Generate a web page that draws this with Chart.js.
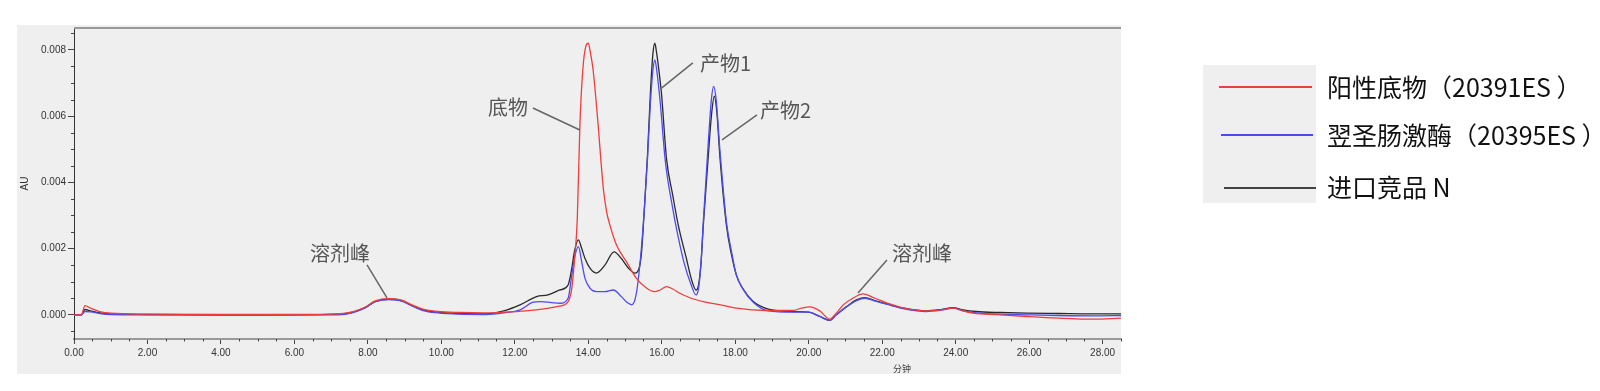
<!DOCTYPE html>
<html lang="zh">
<head>
<meta charset="UTF-8">
<title>色谱图</title>
<script src="https://cdn.jsdelivr.net/npm/chart.js"></script>
<style>
  body { margin: 0; background: #fff; }
  #wrap { position: relative; width: 1600px; height: 391px; overflow: hidden; }
  canvas { position: absolute; left: 0; top: 0; }
  .ann { position: absolute; font-family: "Noto Sans CJK SC", sans-serif; font-size: 20px; line-height: 20px; color: #555; white-space: nowrap; }
  .xt { position: absolute; font-family: "Noto Sans CJK SC", sans-serif; font-size: 9px; line-height: 9px; color: #444; }
  #legendBox { position: absolute; left: 1203px; top: 65px; width: 113px; height: 138px; background: #efefef; }
  .lg-line { position: absolute; height: 2px; }
  .lg-text { position: absolute; left: 1327px; font-family: "Noto Sans CJK SC", sans-serif; font-size: 25px; line-height: 25px; color: #111; white-space: nowrap; }
</style>
</head>
<body>
<div id="wrap">
  <canvas id="chart" width="1600" height="391"></canvas>

  <div class="ann" style="left:488px; top:97px;">底物</div>
  <div class="ann" style="left:700px; top:53px;">产物1</div>
  <div class="ann" style="left:760px; top:100px;">产物2</div>
  <div class="ann" style="left:310px; top:243px;">溶剂峰</div>
  <div class="ann" style="left:892px; top:243px;">溶剂峰</div>
  <div class="xt" style="left:893px; top:364px;">分钟</div>

  <div id="legendBox"></div>
  <div class="lg-line" style="left:1219px; top:86px; width:93px; background:#f03c3c;"></div>
  <div class="lg-line" style="left:1221px; top:134px; width:92px; background:#4b4bf5;"></div>
  <div class="lg-line" style="left:1224px; top:187px; width:92px; background:#444;"></div>
  <div class="lg-text" style="top:74px;">阳性底物（20391ES ）</div>
  <div class="lg-text" style="top:122px;">翌圣肠激酶（20395ES ）</div>
  <div class="lg-text" style="top:174px;">进口竞品 N</div>
</div>

<script>
// retention time (min) and absorbance (AU)
const redT = [0, 0.2, 0.3, 0.45, 0.7, 1.0, 2, 4, 6, 7.2, 7.6, 7.9, 8.2, 8.56, 8.9, 9.2, 9.5, 9.9, 10.5, 11.2, 11.7, 12.3, 12.8, 13.2, 13.45, 13.55, 13.62, 13.7, 13.77, 13.85, 13.93, 14.0, 14.06, 14.13, 14.2, 14.27, 14.34, 14.41, 14.5, 14.59, 14.77, 15.04, 15.31, 15.59, 15.8, 15.95, 16.13, 16.3, 16.49, 16.8, 17.13, 17.6, 18.03, 18.85, 19.56, 19.8, 20.03, 20.3, 20.57, 20.75, 20.94, 21.2, 21.48, 21.8, 22.12, 22.6, 23.2, 23.6, 23.93, 24.2, 24.47, 25.2, 25.93, 26.8, 27.74, 28.5];
const redV = [0, 0, 0.00028, 0.0002, 0.0001, 0.00005, 0.00002, 0.00001, 0.00001, 0.00003, 0.0001, 0.00022, 0.00042, 0.00049, 0.00045, 0.0003, 0.00017, 0.0001, 0.00007, 0.00006, 0.00008, 0.00012, 0.00018, 0.00026, 0.0004, 0.0008, 0.0016, 0.0029, 0.0057, 0.0074, 0.0081, 0.0082, 0.0079, 0.0074, 0.0066, 0.0057, 0.0047, 0.0038, 0.0031, 0.0027, 0.0021, 0.0016, 0.0011, 0.0008, 0.0007, 0.00075, 0.00085, 0.00078, 0.00065, 0.0005, 0.0004, 0.0003, 0.0002, 0.00013, 0.00013, 0.0002, 0.00024, 0.00012, -0.00013, 0.00005, 0.0003, 0.0005, 0.00063, 0.0005, 0.00036, 0.0002, 0.00012, 0.00015, 0.0002, 0.00012, 0.00005, 0, -0.00005, -0.0001, -0.00013, -0.0001];

const blueT = [0, 0.2, 0.3, 0.45, 0.7, 1.0, 2, 4, 6, 7.2, 7.6, 7.9, 8.2, 8.56, 8.9, 9.2, 9.5, 9.9, 10.5, 11.2, 11.7, 12.14, 12.5, 12.7, 13.0, 13.23, 13.45, 13.55, 13.62, 13.73, 13.82, 13.91, 14.05, 14.22, 14.45, 14.68, 14.9, 15.05, 15.18, 15.3, 15.42, 15.52, 15.61, 15.69, 15.76, 15.81, 15.86, 15.95, 16.1, 16.3, 16.4, 16.6, 16.8, 16.93, 17.0, 17.07, 17.13, 17.26, 17.35, 17.41, 17.48, 17.58, 17.76, 17.9, 18.03, 18.2, 18.49, 18.9, 19.56, 20.0, 20.3, 20.57, 20.75, 21.03, 21.3, 21.53, 21.8, 22.12, 22.6, 23.2, 23.6, 23.93, 24.2, 24.56, 25.2, 25.93, 26.8, 27.74, 28.5];
const blueV = [0, 0, 0.0001, 0.00009, 0.00004, 0.00001, 0, -0.00001, 0, 0, 0.00007, 0.0002, 0.0004, 0.00046, 0.00042, 0.00027, 0.00013, 0.00006, 0.00002, 0.00001, 0.00006, 0.00015, 0.00038, 0.0004, 0.00037, 0.00035, 0.0005, 0.0012, 0.0017, 0.00206, 0.0016, 0.0011, 0.0008, 0.0007, 0.0007, 0.00075, 0.00055, 0.00038, 0.0003, 0.0006, 0.0017, 0.0031, 0.0047, 0.0064, 0.0074, 0.0077, 0.0074, 0.0065, 0.0046, 0.0032, 0.0026, 0.0016, 0.0009, 0.0006, 0.0008, 0.0016, 0.0028, 0.0051, 0.0065, 0.0069, 0.0065, 0.005, 0.0028, 0.0019, 0.0012, 0.0008, 0.00038, 0.00012, 0.00008, 0.00008, -0.00005, -0.00016, 0, 0.00024, 0.00043, 0.0005, 0.00042, 0.00032, 0.00018, 0.0001, 0.00014, 0.0002, 0.00012, 0.00006, 0.00002, 0, -0.00002, -0.00003, -0.00002];

const blackT = [0, 0.2, 0.3, 0.45, 0.7, 1.0, 2, 4, 6, 7.2, 7.6, 7.9, 8.2, 8.56, 8.9, 9.2, 9.5, 9.9, 10.5, 11.2, 11.7, 12.14, 12.59, 12.9, 13.23, 13.45, 13.55, 13.62, 13.73, 13.82, 13.91, 14.05, 14.22, 14.45, 14.7, 14.9, 15.1, 15.27, 15.38, 15.45, 15.52, 15.61, 15.69, 15.76, 15.81, 15.86, 15.93, 15.99, 16.13, 16.3, 16.45, 16.67, 16.8, 16.93, 17.0, 17.07, 17.13, 17.26, 17.35, 17.43, 17.5, 17.58, 17.76, 17.9, 18.03, 18.2, 18.49, 18.9, 19.56, 20.0, 20.3, 20.57, 20.75, 21.03, 21.3, 21.53, 21.8, 22.12, 22.6, 23.2, 23.6, 23.93, 24.2, 24.56, 25.2, 25.93, 26.8, 27.74, 28.5];
const blackV = [0, 0, 0.00016, 0.00012, 0.00006, 0.00003, 0.00001, 0, 0, 0.00002, 0.00008, 0.0002, 0.0004, 0.00047, 0.00043, 0.00028, 0.00015, 0.00008, 0.00004, 0.00003, 0.00012, 0.0003, 0.00055, 0.0006, 0.00075, 0.0009, 0.0014, 0.0019, 0.00226, 0.002, 0.0017, 0.0014, 0.00126, 0.0015, 0.0019, 0.0017, 0.0014, 0.00126, 0.0014, 0.0019, 0.0031, 0.0048, 0.0067, 0.0079, 0.0082, 0.0079, 0.0073, 0.0067, 0.0047, 0.0036, 0.0027, 0.0017, 0.0011, 0.00075, 0.0009, 0.0016, 0.0027, 0.0047, 0.006, 0.0066, 0.0061, 0.0048, 0.0027, 0.0018, 0.0012, 0.0008, 0.0004, 0.00017, 0.0001, 0.00008, -0.00005, -0.00017, 0, 0.00025, 0.00045, 0.00052, 0.00043, 0.00033, 0.0002, 0.00012, 0.00016, 0.00022, 0.00015, 0.0001, 0.00007, 0.00005, 0.00004, 0.00003, 0.00003];

const seriesNames = ['阳性底物（20391ES ）', '翌圣肠激酶（20395ES ）', '进口竞品 N'];
const xTicks = [0, 2, 4, 6, 8, 10, 12, 14, 16, 18, 20, 22, 24, 26, 28];
const yTicks = [0, 0.002, 0.004, 0.006, 0.008];

// leader lines: point on the curve (data) + offset to the label end (px)
const leaders = [
  { t: 13.77, v: 0.00558, dx: -47, dy: -22 },
  { t: 16.0, v: 0.00685, dx: 31, dy: -25 },
  { t: 17.64, v: 0.00528, dx: 35, dy: -25 },
  { t: 8.52, v: 0.00051, dx: -20, dy: -33 },
  { t: 21.34, v: 0.00066, dx: 29, dy: -33 }
];

function pts(ts, vs) {
  return ts.map((t, i) => ({ x: t, y: vs[i] }));
}

const panelPlugin = {
  id: 'panel',
  beforeDraw(chart) {
    const ctx = chart.ctx;
    ctx.save();
    ctx.fillStyle = '#ffffff';
    ctx.fillRect(0, 0, chart.width, chart.height);
    ctx.fillStyle = '#efefef';
    ctx.fillRect(17, 25, 1104, 349);
    ctx.restore();
  },
  afterDraw(chart) {
    const ctx = chart.ctx;
    const a = chart.chartArea;
    const xs = chart.scales.x, ys = chart.scales.y;
    ctx.save();
    // top frame line
    ctx.strokeStyle = '#999';
    ctx.lineWidth = 2;
    ctx.beginPath();
    ctx.moveTo(a.left, a.top);
    ctx.lineTo(a.right, a.top);
    ctx.stroke();
    // minor ticks
    ctx.strokeStyle = '#444';
    ctx.lineWidth = 1;
    ctx.beginPath();
    for (let t = 0.5; t <= xs.max; t += 0.5) {
      if (Math.abs(t / 2 - Math.round(t / 2)) < 1e-6) continue;
      const px = Math.round(xs.getPixelForValue(t)) + 0.5;
      ctx.moveTo(px, a.bottom);
      ctx.lineTo(px, a.bottom + 2.5);
    }
    for (let k = -1; k <= 17; k++) {
      if (k % 4 === 0) continue;
      const v = k * 0.0005;
      const py = Math.round(ys.getPixelForValue(v)) + 0.5;
      ctx.moveTo(a.left, py);
      ctx.lineTo(a.left - 3, py);
    }
    ctx.stroke();
    // annotation leader lines
    ctx.strokeStyle = '#666';
    ctx.lineWidth = 1.5;
    ctx.beginPath();
    leaders.forEach(l => {
      const px = xs.getPixelForValue(l.t), py = ys.getPixelForValue(l.v);
      ctx.moveTo(px, py);
      ctx.lineTo(px + l.dx, py + l.dy);
    });
    ctx.stroke();
    ctx.restore();
  }
};

const lineDefaults = { borderWidth: 1.3, pointRadius: 0, fill: false, cubicInterpolationMode: 'monotone' };

new Chart(document.getElementById('chart'), {
  type: 'line',
  data: {
    datasets: [
      Object.assign({ label: seriesNames[0], data: pts(redT, redV), borderColor: '#f03c3c' }, lineDefaults),
      Object.assign({ label: seriesNames[1], data: pts(blueT, blueV), borderColor: '#4b4bf5' }, lineDefaults),
      Object.assign({ label: seriesNames[2], data: pts(blackT, blackV), borderColor: '#2a2a2a' }, lineDefaults)
    ]
  },
  options: {
    responsive: false,
    animation: false,
    devicePixelRatio: 1,
    layout: { padding: { left: 17, top: 28, right: 479, bottom: 0 } },
    plugins: { legend: { display: false }, tooltip: { enabled: false } },
    scales: {
      x: {
        type: 'linear',
        min: 0,
        max: 28.5,
        afterBuildTicks: s => { s.ticks = xTicks.map(v => ({ value: v })); },
        afterFit: s => { s.height = 52; },
        ticks: {
          callback: v => Number(v).toFixed(2),
          font: { family: 'Liberation Sans, Arial, sans-serif', size: 10 },
          color: '#333',
          padding: 3,
          maxRotation: 0,
          autoSkip: false
        },
        grid: { drawOnChartArea: false, tickLength: 5, color: '#444' },
        border: { color: '#999', width: 2 }
      },
      y: {
        min: -0.00073,
        max: 0.00866,
        afterBuildTicks: s => { s.ticks = yTicks.map(v => ({ value: v })); },
        afterFit: s => { s.width = 57; },
        ticks: {
          callback: v => Number(v).toFixed(3),
          font: { family: 'Liberation Sans, Arial, sans-serif', size: 10 },
          color: '#333',
          padding: 2
        },
        grid: { drawOnChartArea: false, tickLength: 6, color: '#444' },
        border: { color: '#333', width: 1 },
        title: { display: true, text: 'AU', font: { family: 'Liberation Sans, Arial, sans-serif', size: 10 }, color: '#333', padding: { top: 2, bottom: 0 } }
      }
    }
  },
  plugins: [panelPlugin]
});
</script>
</body>
</html>
